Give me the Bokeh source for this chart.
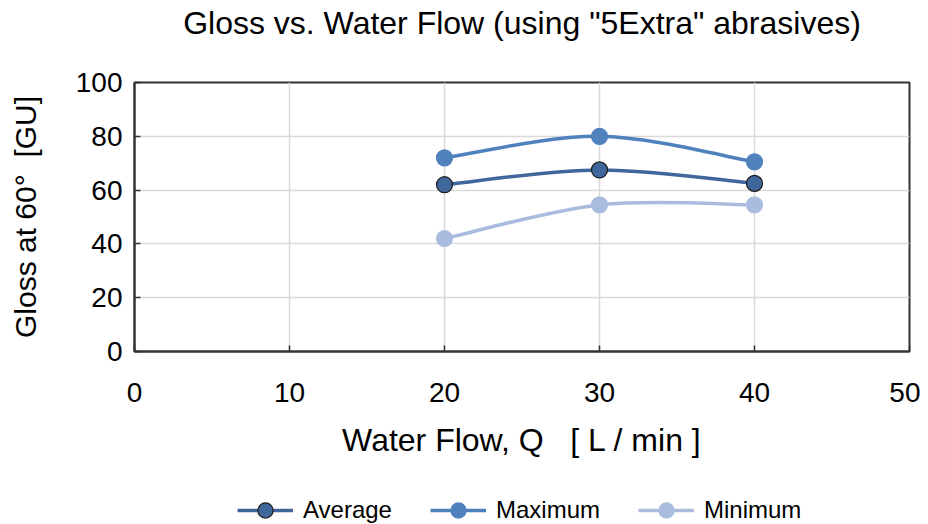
from bokeh.plotting import figure
from bokeh.layouts import column
from bokeh.models import Range1d, FixedTicker, Legend, LegendItem, Label
from bokeh.embed import file_html
from bokeh.resources import INLINE

# ---- data ----
water_flow = [20, 30, 40]
gloss_avg = [62.0, 67.5, 62.5]
gloss_max = [72.0, 80.0, 70.5]
gloss_min = [42.0, 54.5, 54.5]
x_ticks = [0, 10, 20, 30, 40, 50]
y_ticks = [0, 20, 40, 60, 80, 100]
series_names = ["Average", "Maximum", "Minimum"]
title_text = 'Gloss vs. Water Flow (using "5Extra" abrasives)'

FONT = "Liberation Sans"
NB = "\u00a0"
X_MIN, X_MAX = 0, 50


def strip(height):
    f = figure(width=920, height=height, output_backend="svg", toolbar_location=None,
               x_axis_type=None, y_axis_type=None, min_border=0,
               x_range=Range1d(X_MIN, X_MAX), y_range=Range1d(0, 1))
    f.outline_line_color = None
    f.xgrid.visible = False
    f.ygrid.visible = False
    return f


# ---- title strip ----
top = strip(44)
top.add_layout(Label(x=(X_MIN + X_MAX) / 2, y=0.5, text=title_text,
                     text_align="center", text_baseline="middle",
                     text_font=FONT, text_font_size="32px", text_color="#000000"))

# ---- main chart ----
p = figure(frame_width=775, frame_height=269, output_backend="svg", toolbar_location=None,
           x_range=Range1d(X_MIN, X_MAX), y_range=Range1d(0, 100),
           min_border_left=134, min_border_right=11, min_border_top=38,
           min_border_bottom=140, title=None)

p.outline_line_color = "#333333"
p.outline_line_width = 2

for ax in (p.xaxis[0], p.yaxis[0]):
    ax.axis_line_color = "#333333"
    ax.axis_line_width = 2
    ax.major_tick_in = 6
    ax.major_tick_out = 0
    ax.major_tick_line_color = "#333333"
    ax.major_tick_line_width = 1.5
    ax.minor_tick_line_color = None
    ax.major_label_text_font = FONT
    ax.major_label_text_font_size = "28px"
    ax.major_label_text_color = "#000000"
    ax.axis_label_text_font = FONT
    ax.axis_label_text_font_style = "normal"
    ax.axis_label_text_color = "#000000"

p.xaxis[0].axis_label_text_font_size = "32px"
p.yaxis[0].axis_label_text_font_size = "30px"
p.xaxis[0].ticker = FixedTicker(ticks=x_ticks)
p.yaxis[0].ticker = FixedTicker(ticks=y_ticks)
p.xaxis[0].axis_label = "Water Flow, Q" + NB * 3 + "[ L / min ]"
p.yaxis[0].axis_label = "Gloss at 60\u00b0" + NB * 2 + "[GU]"
p.xaxis[0].major_label_standoff = 31
p.xaxis[0].axis_label_standoff = 17
p.yaxis[0].major_label_standoff = 12
p.yaxis[0].axis_label_standoff = 31

p.xgrid.grid_line_color = "#d9d9d9"
p.ygrid.grid_line_color = "#d9d9d9"
p.xgrid.grid_line_width = 1.5
p.ygrid.grid_line_width = 1.5


def smooth_segments(xs, ys):
    """Cubic Bezier control points (Catmull-Rom style) through the data points."""
    n = len(xs)
    out = dict(x0=[], y0=[], x1=[], y1=[], cx0=[], cy0=[], cx1=[], cy1=[])
    for i in range(n - 1):
        ip = max(i - 1, 0)
        inx = min(i + 2, n - 1)
        out["x0"].append(xs[i]); out["y0"].append(ys[i])
        out["x1"].append(xs[i + 1]); out["y1"].append(ys[i + 1])
        out["cx0"].append(xs[i] + (xs[i + 1] - xs[ip]) / 6.0)
        out["cy0"].append(ys[i] + (ys[i + 1] - ys[ip]) / 6.0)
        out["cx1"].append(xs[i + 1] - (xs[inx] - xs[i]) / 6.0)
        out["cy1"].append(ys[i + 1] - (ys[inx] - ys[i]) / 6.0)
    return out


colors = ["#40679b", "#4f81bd", "#a9bcdd"]
edges = ["#1a1a1a", "#4f81bd", "#a9bcdd"]
values = [gloss_avg, gloss_max, gloss_min]

for ys, col, edge in zip(values, colors, edges):
    seg = smooth_segments(water_flow, ys)
    p.bezier(line_color=col, line_width=3.5, **seg)
    p.scatter(water_flow, ys, size=16, fill_color=col, line_color=edge,
              line_width=1.2)

# ---- legend strip below the chart (its renderers fall outside its view) ----
lg = strip(40)
items = []
for name, ys, col, edge in zip(series_names, values, colors, edges):
    r1 = lg.line(water_flow, ys, line_color=col, line_width=3.5)
    r2 = lg.scatter(water_flow, ys, size=16, fill_color=col, line_color=edge,
                    line_width=1.2)
    items.append(LegendItem(label=name, renderers=[r1, r2]))

legend = Legend(items=items, orientation="horizontal", location=(103, 2),
                label_text_font=FONT, label_text_font_size="24px",
                label_text_color="#000000", glyph_width=56, glyph_height=38,
                label_height=38,
                label_standoff=10, spacing=38, padding=0, margin=0,
                border_line_alpha=0, background_fill_alpha=0)
lg.add_layout(legend)

open("out.html", "w").write(file_html(column(top, p, lg, spacing=0), INLINE))
